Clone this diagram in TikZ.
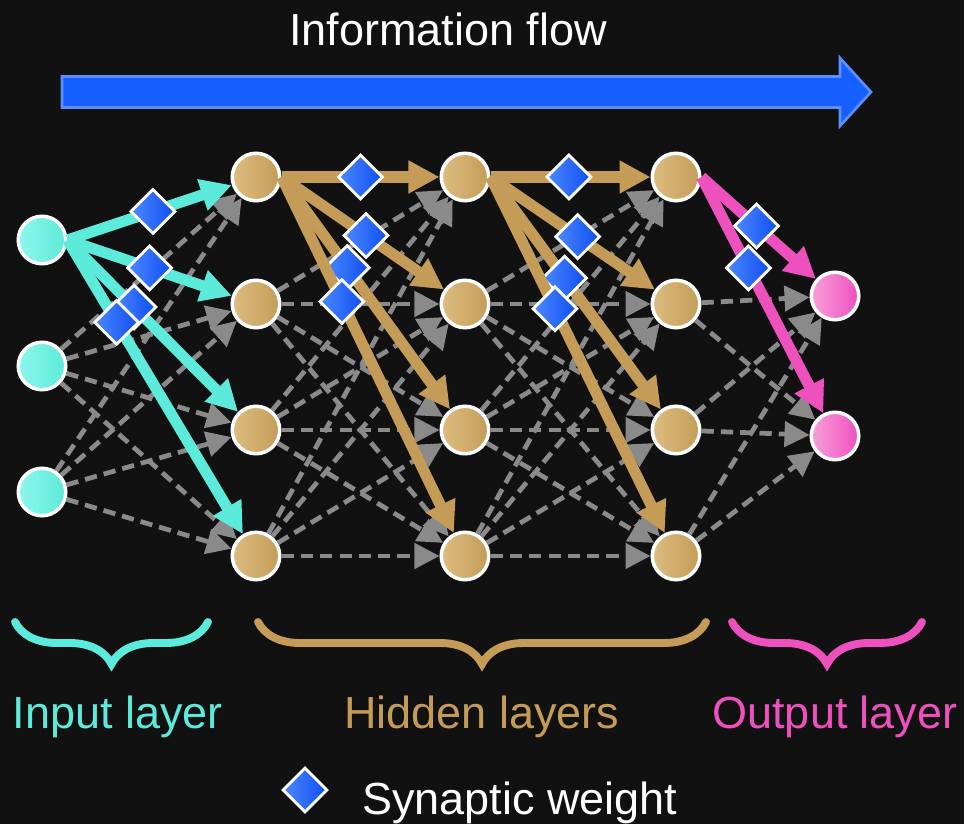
\documentclass[tikz,border=0pt]{standalone}
\usepackage{fontspec}
\setmainfont{Liberation Sans}
\usepackage{tikz}
\usetikzlibrary{arrows.meta,positioning,decorations.pathreplacing}

\definecolor{bgdark}{HTML}{111111}
\definecolor{incyan}{HTML}{5CEADA}
\definecolor{incyanlt}{HTML}{8DF7EC}
\definecolor{hidtan}{HTML}{C49C58}
\definecolor{hidtanlt}{HTML}{DCBD80}
\definecolor{outpink}{HTML}{EE50BE}
\definecolor{outpinklt}{HTML}{F7A0DA}
\definecolor{linkgray}{HTML}{8A8A8A}
\definecolor{weightblue}{HTML}{0F4EF2}
\definecolor{weightbluelt}{HTML}{4C88FF}
\definecolor{flowblue}{HTML}{1560FF}
\definecolor{flowedge}{HTML}{5C8EFF}

\newcommand\bigtext{\fontsize{25.6pt}{30pt}\selectfont}

\tikzset{
  unit/.style={circle,draw=white,line width=2pt,minimum size=0.95cm,inner sep=0pt},
  inunit/.style={unit,left color=incyanlt,right color=incyan},
  hidunit/.style={unit,left color=hidtanlt,right color=hidtan},
  outunit/.style={unit,left color=outpinklt,right color=outpink},
  weight/.style={rectangle,rotate=45,draw=white,line width=1.6pt,minimum size=0.62cm,
    inner sep=0pt,left color=weightbluelt,right color=weightblue},
  graylink/.style={draw=linkgray,line width=2.7pt,dash pattern=on 7pt off 4pt,
    -{Triangle[length=0.5cm,width=0.5cm]}},
  thicklink/.style={line width=6.3pt,-{Triangle[length=0.62cm,width=0.62cm]}},
  inlink/.style={thicklink,draw=incyan,fill=incyan},
  hidlink/.style={thicklink,draw=hidtan,fill=hidtan},
  outlink/.style={thicklink,draw=outpink,fill=outpink},
  layerbrace/.style={decorate,decoration={brace,mirror,amplitude=0.84cm},
    line width=4.5pt,line cap=round},
  caption/.style={inner sep=0pt},
}

\begin{document}
\begin{tikzpicture}[font=\bigtext]
\fill[bgdark] (0,0) rectangle (19.28,16.48);
\useasboundingbox (0,0) rectangle (19.28,16.48);

% information flow
\draw[fill=flowblue,draw=flowedge,line width=1.5pt]
  (1.24,14.33) -- (16.80,14.33) -- (16.80,13.96) -- (17.42,14.64)
  -- (16.80,15.32) -- (16.80,14.95) -- (1.24,14.95) -- cycle;
\node[caption,text=white,anchor=base] (flowtext) at (8.96,15.56) {Information flow};

% units
\foreach \y [count=\i] in {11.68,9.16,6.64}
  \node[inunit] (i\i) at (0.84,\y) {};
\foreach \x [count=\k] in {5.12,9.30,13.52}
  \foreach \y [count=\j] in {12.94,10.40,7.88,5.36}
    \node[hidunit] (h\k\j) at (\x,\y) {};
\foreach \y [count=\j] in {10.56,7.76}
  \node[outunit] (o\j) at (16.70,\y) {};

% dashed links
\foreach \i in {2,3}
  \foreach \j in {1,...,4}
    \draw[graylink] (i\i) -- (h1\j);
\foreach \k/\n in {1/2,2/3}
  \foreach \i in {2,3,4}
    \foreach \j in {1,...,4}
      \draw[graylink] (h\k\i) -- (h\n\j);
\foreach \i in {2,3,4}
  \foreach \j in {1,2}
    \draw[graylink] (h3\i) -- (o\j);

% weighted links
\foreach \j/\p in {1/0.52,2/0.50,3/0.39,4/0.28}
  \draw[inlink] (i1.east) -- node[weight,pos=\p] {} (h1\j);
\foreach \j/\p in {1/0.50,2/0.52,3/0.39,4/0.35}
  \draw[hidlink] (h11.east) -- node[weight,pos=\p] {} (h2\j);
\foreach \j/\p in {1/0.49,2/0.53,3/0.435,4/0.37}
  \draw[hidlink] (h21.east) -- node[weight,pos=\p] {} (h3\j);
\foreach \j/\p in {1/0.48,2/0.385}
  \draw[outlink] (h31.east) -- node[weight,pos=\p] {} (o\j);

% layers
\draw[layerbrace,incyan] (0.30,4.04) -- (4.16,4.04);
\draw[layerbrace,hidtan] (5.16,4.04) -- (14.12,4.04);
\draw[layerbrace,outpink] (14.64,4.04) -- (18.44,4.04);
\node[caption,text=incyan,anchor=base] (inlabel) at (2.36,1.90) {Input layer};
\node[caption,text=hidtan,anchor=base] (hidlabel) at (9.64,1.90) {Hidden layers};
\node[caption,text=outpink,anchor=base] (outlabel) at (16.70,1.90) {Output layer};

% legend
\node[weight] (legw) at (6.10,0.68) {};
\node[caption,text=white,anchor=base west] (legtext) at (7.24,0.20) {Synaptic weight};
\end{tikzpicture}
\end{document}
